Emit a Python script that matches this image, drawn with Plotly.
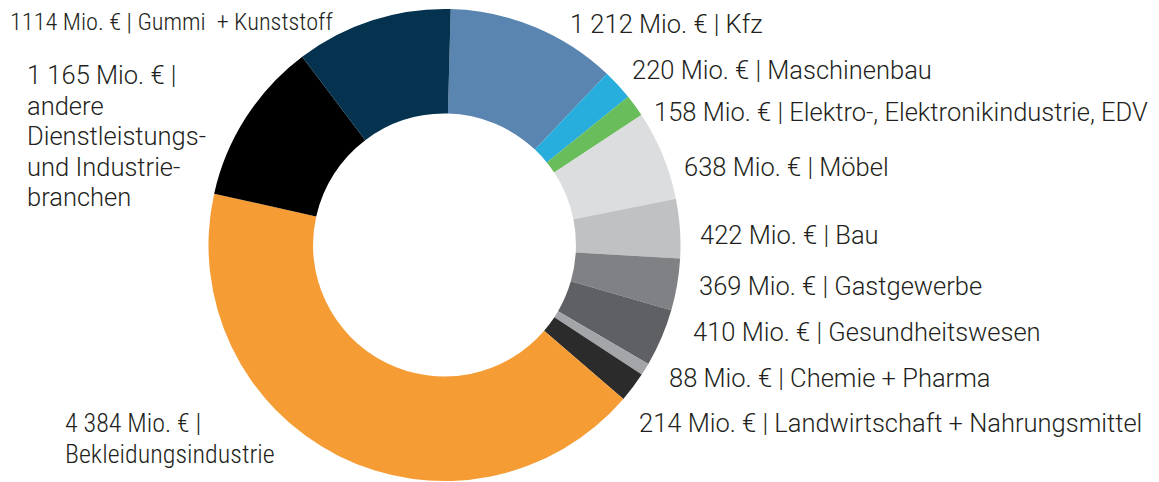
import plotly.graph_objects as go

# ---- data ----
categories = ["Kfz", "Maschinenbau", "Elektro-, Elektronikindustrie, EDV", "Möbel", "Bau",
              "Gastgewerbe", "Gesundheitswesen", "Chemie + Pharma",
              "Landwirtschaft + Nahrungsmittel", "Bekleidungsindustrie",
              "andere Dienstleistungs- und Industriebranchen", "Gummi + Kunststoff"]
values = [1212, 220, 158, 638, 422, 369, 410, 88, 214, 4384, 1165, 1114]
label_texts = [
    "1 212 Mio. € | Kfz",
    "220 Mio. € | Maschinenbau",
    "158 Mio. € | Elektro-, Elektronikindustrie, EDV",
    "638 Mio. € | Möbel",
    "422 Mio. € | Bau",
    "369 Mio. € | Gastgewerbe",
    "410 Mio. € | Gesundheitswesen",
    "88 Mio. € | Chemie + Pharma",
    "214 Mio. € | Landwirtschaft + Nahrungsmittel",
    "4 384 Mio. € |<br>Bekleidungsindustrie",
    "1 165 Mio. € |<br>andere<br>Dienstleistungs-<br>und Industrie-<br>branchen",
    "1114 Mio. € | Gummi  + Kunststoff",
]

# ---- style ----
colors = ["#5985b0", "#27aedd", "#6abd5b", "#dcdddf", "#c0c1c3", "#7f8184",
          "#5f6063", "#a4a5a8", "#2b2b2b", "#f59c34", "#000000", "#04324f"]
# label anchor positions in page pixels (left x, centre y of first line)
label_pos = [(568, 24), (630, 70), (652, 112), (682, 167), (698, 235), (697, 286),
             (691, 332), (667, 378), (637, 423), (63, 423), (25, 75), (8, 22)]
# (family, size) per label
NORMAL = ("Roboto, sans-serif", 25.5)
COND_G = ("Roboto Condensed, Liberation Sans Narrow, sans-serif", 24.3)
COND_B = ("Roboto Condensed, Liberation Sans Narrow, sans-serif", 26)
label_fonts = [NORMAL] * 9 + [COND_B, NORMAL, COND_G]
LINE_H = 30.5

OFF = 8  # browser body margin
W, H = 1159 - OFF, 482 - OFF
cx, cy, r = 444.5 - OFF, 245 - OFF, 236

fig = go.Figure(go.Pie(
    labels=categories, values=values, sort=False, direction="clockwise",
    rotation=1.5, hole=0.557, marker=dict(colors=colors, line=dict(width=0)),
    textinfo="none", hoverinfo="label+value", showlegend=False,
    domain=dict(x=[(cx - r) / W, (cx + r) / W],
                y=[max(0, 1 - (cy + r) / H), 1 - (cy - r) / H]),
))

for txt, (px, py), (fam, size) in zip(label_texts, label_pos, label_fonts):
    for i, line in enumerate(txt.split("<br>")):
        fig.add_annotation(text=line, x=(px - OFF) / W, y=1 - (py + i * LINE_H - OFF) / H,
                           xref="paper", yref="paper",
                           xanchor="left", yanchor="middle", align="left", showarrow=False,
                           font=dict(size=size, color="#231f20", weight=300, family=fam))

fig.update_layout(width=W, height=H, margin=dict(l=0, r=0, t=0, b=0),
                  paper_bgcolor="white", plot_bgcolor="white")
fig.write_html("out.html")
